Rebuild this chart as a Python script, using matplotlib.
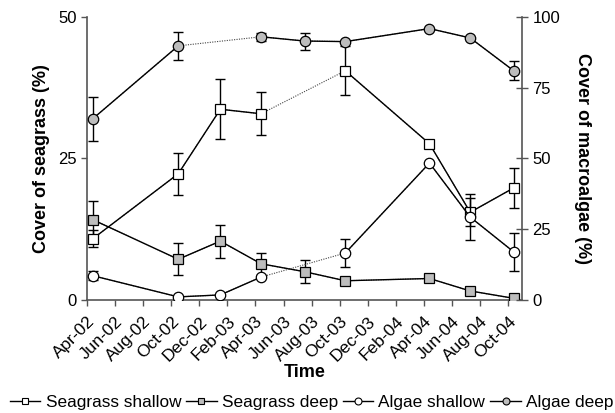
import numpy as np
import matplotlib.pyplot as plt

plt.rcParams['font.family'] = ['Liberation Sans', 'DejaVu Sans']

# sampling times, in months after April 2002
months = np.array([0.4, 6.5, 9.5, 12.4, 15.5, 18.4, 24.4, 27.3, 30.4])

# seagrass cover (%), left axis
sg_shallow = np.array([10.8, 22.3, 33.7, 32.9, np.nan, 40.5, 27.6, 15.5, 19.8])
sg_shallow_err = np.array([1.5, 3.7, 5.3, 3.8, 0, 4.3, 0, 2.5, 3.6])
sg_deep = np.array([14.2, 7.2, 10.4, 6.4, 5.0, 3.4, 3.8, 1.6, 0.3])
sg_deep_err = np.array([3.3, 2.8, 2.9, 1.9, 2.0, 0, 0.3, 0, 0])

# macroalgae cover (%), right axis
al_shallow = np.array([8.6, 1.1, 1.8, 8.1, np.nan, 16.6, 48.4, 29.3, 17.0])
al_shallow_err = np.array([1.5, 0, 0, 0, 0, 5.0, 0, 8.0, 6.7])
al_deep = np.array([64.0, 89.8, np.nan, 93.0, 91.5, 91.3, 95.9, 92.6, 81.0])
al_deep_err = np.array([7.8, 5.0, 0, 1.5, 3.0, 0, 0, 0, 3.4])

tick_months = np.arange(0, 31, 2)
tick_labels = ['Apr-02', 'Jun-02', 'Aug-02', 'Oct-02', 'Dec-02', 'Feb-03',
               'Apr-03', 'Jun-03', 'Aug-03', 'Oct-03', 'Dec-03', 'Feb-04',
               'Apr-04', 'Jun-04', 'Aug-04', 'Oct-04']

GREY = '#bdbdbd'
SPINE = '#555555'


def draw(ax, y, err, marker, face, label):
    ok = ~np.isnan(y)
    # dotted link across missing samples
    ax.plot(months[ok], y[ok], ls=(0, (1, 1.2)), lw=0.8, color='#444444', zorder=2)
    ax.errorbar(months[ok], y[ok], yerr=err[ok], fmt='none', ecolor='black',
                elinewidth=1, capsize=3.5, capthick=1, zorder=3)
    ax.plot(months, y, '-', color='black', lw=1, marker=marker, ms=7.5,
            mfc=face, mec='black', mew=0.9, zorder=4)
    # legend proxy with smaller marker
    return ax.plot([], [], '-', color='black', lw=1, marker=marker, ms=5,
                   mfc=face, mec='black', mew=0.8, label=label)[0]


fig = plt.figure(figsize=(6.15, 4.13), dpi=100)
ax = fig.add_axes([0.1415, 0.2736, 0.7075, 0.6853])
ax2 = ax.twinx()

h1 = draw(ax, sg_shallow, sg_shallow_err, 's', 'white', 'Seagrass shallow')
h2 = draw(ax, sg_deep, sg_deep_err, 's', GREY, 'Seagrass deep')
h3 = draw(ax2, al_shallow, al_shallow_err, 'o', 'white', 'Algae shallow')
h4 = draw(ax2, al_deep, al_deep_err, 'o', GREY, 'Algae deep')

ax.set_xlim(0, 31)
ax.set_ylim(0, 50)
ax2.set_ylim(0, 100)
ax.set_yticks([0, 25, 50])
ax2.set_yticks([0, 25, 50, 75, 100])
ax.set_xticks(tick_months)
ax.set_xticklabels(tick_labels, rotation=45, ha='right', rotation_mode='anchor')

for a in (ax, ax2):
    a.spines['top'].set_visible(False)
    for s in ('left', 'right', 'bottom'):
        a.spines[s].set_color(SPINE)
        a.spines[s].set_linewidth(1.2)
ax.spines['right'].set_visible(False)
ax2.spines['left'].set_visible(False)
ax2.spines['bottom'].set_visible(False)

ax.tick_params(axis='both', labelsize=12, color=SPINE, length=4, width=1)
ax.tick_params(axis='x', labelsize=12.5, pad=6)
ax2.tick_params(axis='y', labelsize=12, color=SPINE, direction='inout',
                length=8, width=1)

ax.set_ylabel('Cover of seagrass (%)', fontsize=13, fontweight='bold', labelpad=6)
ax2.set_ylabel('Cover of macroalgae (%)', fontsize=13, fontweight='bold',
               rotation=270, labelpad=22)
ax.set_xlabel('Time', fontsize=13, fontweight='bold', labelpad=0)

fig.legend(handles=[h1, h2, h3, h4], loc='lower center', ncol=4,
           bbox_to_anchor=(0.507, -0.03), frameon=False, fontsize=12.4,
           handlelength=1.75, handletextpad=0.3, columnspacing=0.3)

fig.savefig('out.png', dpi=100)
